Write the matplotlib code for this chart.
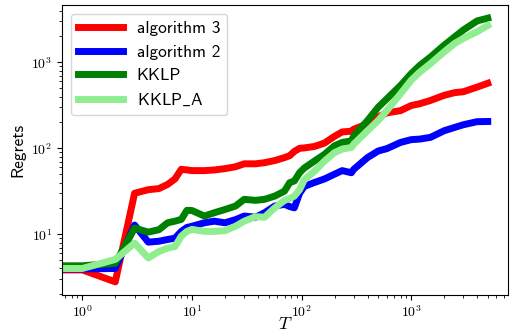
import math
import matplotlib
matplotlib.use('Agg')
import matplotlib.pyplot as plt
from matplotlib.ticker import FuncFormatter

plt.rcParams['mathtext.fontset'] = 'cm'
plt.rcParams['axes.unicode_minus'] = False

# rounds T (0 is dropped by the log scale, as in the original)
T = [0, 1, 2, 3, 4, 5, 6, 7, 8, 9, 10, 13, 16, 20, 25, 30, 38, 46, 57, 70, 78, 86,
     96, 106, 131, 162, 200, 235, 285, 300, 400, 500, 600, 800, 1000, 1200, 1500,
     2000, 2500, 3000, 4000, 5000]

alg3 = [3.85, 3.85, 2.8, 30, 33, 34, 38, 44, 57, 56, 55, 55, 56, 58, 61, 66, 66, 68,
        72, 78, 82, 92, 100, 101, 105, 115, 138, 155, 158, 167, 192, 232, 258, 274,
        314, 330, 360, 413, 444, 455, 515, 570]
alg2 = [3.95, 3.95, 4.0, 12.8, 8.1, 8.3, 8.7, 9.0, 10.8, 12.0, 12.4, 13.6, 14.2, 13.6,
        14.8, 16.3, 15.8, 17.8, 21.3, 22.3, 21.0, 20.3, 30, 36, 40, 44, 50, 55, 52, 57,
        78, 93, 99, 117, 126, 128, 134, 160, 175, 188, 204, 205]
kklp = [4.3, 4.3, 4.6, 11.8, 10.6, 11.3, 13.6, 14.2, 14.9, 19.0, 18.9, 16.3, 17.8, 19.4,
        21.3, 25.5, 24.8, 25.5, 27.8, 31.8, 39.8, 41.7, 52, 59, 71, 85, 107, 117, 122,
        140, 210, 300, 376, 537, 737, 921, 1150, 1580, 1980, 2380, 3030, 3260]
kklp_a = [4.0, 4.0, 5.1, 7.9, 5.3, 6.3, 6.9, 7.2, 9.5, 10.8, 11.4, 10.8, 10.8, 11.0,
          12.4, 14.2, 16.0, 15.8, 20.3, 24.8, 26, 27.8, 33, 43, 54, 71, 89, 98, 102,
          112, 160, 210, 274, 430, 617, 770, 964, 1320, 1660, 1900, 2270, 2680]

fig = plt.figure(figsize=(5.13, 3.35), dpi=100)
ax = fig.add_axes([0.1209, 0.1194, 0.8694, 0.8657])

ax.plot(T, alg3, color='red', lw=5, label='algorithm 3')
ax.plot(T, alg2, color='blue', lw=5, label='algorithm 2')
ax.plot(T, kklp, color='green', lw=5, label='KKLP')
ax.plot(T, kklp_a, color='lightgreen', lw=5, label=r'KKLP$\_$A')

ax.set_xscale('log')
ax.set_yscale('log')

fmt = FuncFormatter(lambda v, p: r'$10^{%d}$' % round(math.log10(v)))
ax.xaxis.set_major_formatter(fmt)
ax.yaxis.set_major_formatter(fmt)
ax.tick_params(labelsize=10)

ax.set_xlabel('$T$', fontsize=13, labelpad=-4)
ax.set_ylabel('Regrets', fontsize=12.5, family='cmss10')

ax.legend(loc='upper left', handlelength=2.6,
          prop={'family': 'cmss10', 'size': 12.5})

fig.savefig('out.png', dpi=100)
